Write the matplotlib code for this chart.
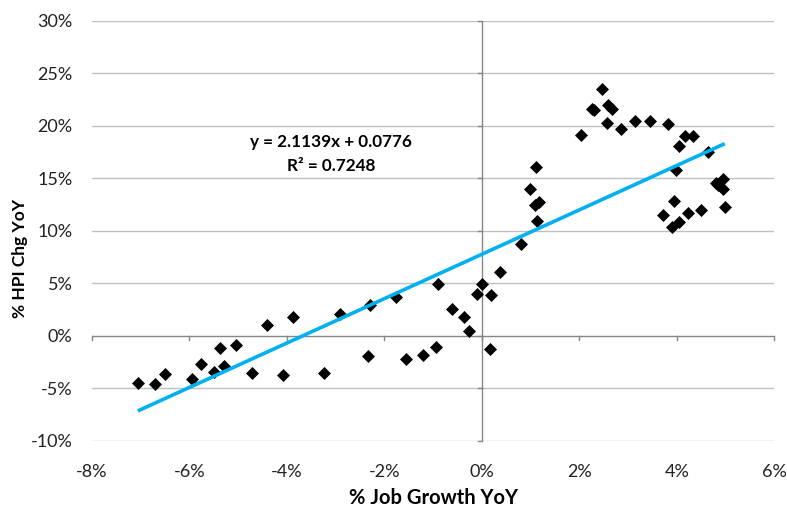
import matplotlib
matplotlib.use("Agg")
import matplotlib.pyplot as plt
import numpy as np
from matplotlib.ticker import FuncFormatter

plt.rcParams["font.family"] = ["Lato", "DejaVu Sans"]

# % job growth YoY vs % HPI change YoY
job_growth = [-7.06, -6.70, -6.51, -5.94, -5.77, -5.49, -5.38, -5.29, -5.04, -4.72,
              -4.41, -4.09, -3.88, -3.25, -2.92, -2.34, -2.29, -1.77, -1.55, -1.21,
              -0.95, -0.91, -0.62, -0.37, -0.26, -0.11, 0.01, 0.16, 0.19, 0.37,
              0.81, 0.98, 1.08, 1.11, 1.13, 1.17, 2.04, 2.26, 2.30, 2.47,
              2.56, 2.58, 2.67, 2.86, 3.14, 3.44, 3.71, 3.81, 3.90, 3.93,
              3.98, 4.04, 4.04, 4.17, 4.23, 4.32, 4.50, 4.64, 4.80, 4.84,
              4.94, 4.95, 4.98]
hpi_chg = [-4.53, -4.57, -3.65, -4.15, -2.67, -3.46, -1.14, -2.86, -0.91, -3.55,
           1.05, -3.74, 1.81, -3.55, 2.10, -1.90, 2.90, 3.66, -2.25, -1.81,
           -1.11, 4.90, 2.54, 1.78, 0.48, 3.94, 4.90, -1.27, 3.88, 6.10,
           8.76, 13.94, 12.45, 16.04, 10.95, 12.76, 19.14, 21.59, 21.50, 23.52,
           20.23, 22.00, 21.59, 19.69, 20.42, 20.45, 11.52, 20.13, 10.38, 12.86,
           15.78, 18.10, 10.83, 18.99, 11.69, 19.05, 12.00, 17.47, 14.54, 14.38,
           13.94, 14.95, 12.29]

# Excel linear trendline (fractions)
slope = 2.1139
intercept = 0.0776
r_squared = 0.7248

x_ticks = [-8, -6, -4, -2, 0, 2, 4, 6]
y_ticks = [-10, -5, 0, 5, 10, 15, 20, 25, 30]

fig = plt.figure(figsize=(7.87, 5.08), dpi=100)
ax = fig.add_axes([0.1169, 0.1325, 0.8672, 0.8268])

ax.set_xlim(-8, 6)
ax.set_ylim(-10, 30)
for yv in y_ticks:
    if yv != 0:
        ax.axhline(yv, color="#c0c0c0", lw=1.0, zorder=0)

# axes cross at 0 / 0 like Excel
ax.axhline(0, color="#868686", lw=1.0, zorder=1)
ax.axvline(0, color="#868686", lw=1.0, zorder=1)
for xv in x_ticks:
    ax.plot([xv, xv], [0, -0.4], color="#868686", lw=1.0, zorder=1, clip_on=False)
for yv in y_ticks:
    ax.plot([0, -0.08], [yv, yv], color="#868686", lw=1.0, zorder=1, clip_on=False)

for s in ax.spines.values():
    s.set_visible(False)

ax.scatter(job_growth, hpi_chg, marker="D", s=44, color="black", zorder=3, linewidths=0)

xs = np.array([min(job_growth), max(job_growth)])
ax.plot(xs, slope * xs + intercept * 100, color="#00b0f0", lw=2.6, zorder=4,
        solid_capstyle="butt")

ax.text(-3.09, 17.3, f"y = {slope:.4f}x + {intercept:.4f}\nR² = {r_squared:.4f}",
        ha="center", va="center", fontsize=12.3, fontweight="bold", linespacing=1.55)

ax.set_xticks(x_ticks)
ax.set_yticks(y_ticks)
pct = FuncFormatter(lambda v, p: f"{v:.0f}%")
ax.xaxis.set_major_formatter(pct)
ax.yaxis.set_major_formatter(pct)
ax.tick_params(length=0, labelsize=13, colors="#222222")
ax.tick_params(axis="x", pad=17)
ax.tick_params(axis="y", pad=14)

ax.set_xlabel("% Job Growth YoY", fontsize=14.5, fontweight="bold")
ax.xaxis.set_label_coords(0.5, -0.112)
ax.set_ylabel("% HPI Chg YoY", fontsize=12.5, fontweight="bold")
ax.yaxis.set_label_coords(-0.094, 0.435)

fig.savefig("out.png", dpi=100)
